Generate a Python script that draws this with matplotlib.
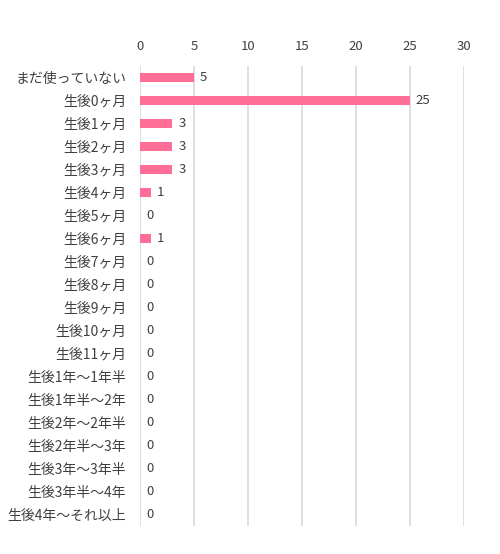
import matplotlib
matplotlib.use("Agg")
import matplotlib.pyplot as plt

plt.rcParams['font.family'] = ['Noto Sans CJK JP', 'DejaVu Sans']

categories = ['まだ使っていない', '生後0ヶ月', '生後1ヶ月', '生後2ヶ月', '生後3ヶ月',
              '生後4ヶ月', '生後5ヶ月', '生後6ヶ月', '生後7ヶ月', '生後8ヶ月',
              '生後9ヶ月', '生後10ヶ月', '生後11ヶ月', '生後1年～1年半', '生後1年半～2年',
              '生後2年～2年半', '生後2年半～3年', '生後3年～3年半', '生後3年半～4年',
              '生後4年～それ以上']
values = [5, 25, 3, 3, 3, 1, 0, 1, 0, 0, 0, 0, 0, 0, 0, 0, 0, 0, 0, 0]
xticks = [0, 5, 10, 15, 20, 25, 30]

fig = plt.figure(figsize=(5, 5.54), dpi=100)
ax = fig.add_axes([0.28, 0.0505, 0.648, 0.8304])

y = list(range(len(categories)))
ax.barh(y, values, height=0.4, color='#FF6E97', zorder=3)
for yi, v in zip(y, values):
    ax.text(v + 0.55, yi, str(v), va='center', ha='left', fontsize=9.5, color='#404040')

ax.set_xlim(0, 30)
ax.set_ylim(len(categories) - 0.5, -0.5)
ax.set_xticks(xticks)
ax.set_yticks(y)
ax.set_yticklabels(categories)
ax.xaxis.tick_top()
ax.tick_params(axis='x', length=0, pad=9, labelsize=9.5, labelcolor='#404040')
ax.tick_params(axis='y', length=0, pad=10, labelsize=10, labelcolor='#404040')
ax.grid(axis='x', color='#d9d9d9', linewidth=1.2, zorder=0)
for s in ax.spines.values():
    s.set_visible(False)

fig.savefig('out.png', dpi=100)
